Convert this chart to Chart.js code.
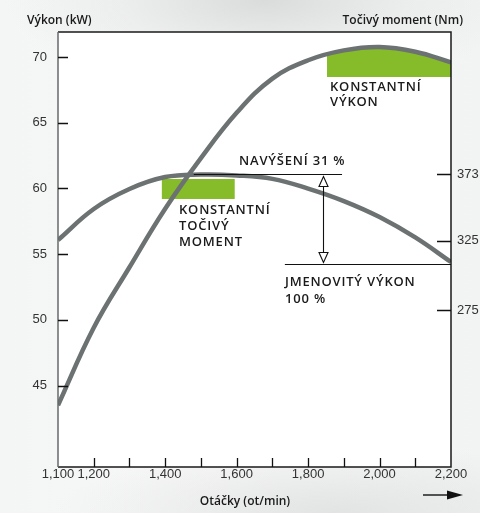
<!DOCTYPE html>
<html>
<head>
<meta charset="utf-8">
<script src="https://cdn.jsdelivr.net/npm/chart.js@4"></script>
<style>
  html, body { margin: 0; padding: 0; }
  body {
    width: 480px; height: 513px; overflow: hidden;
    background:
      radial-gradient(ellipse 260px 90px at 55% 0%, #dadbdb 0%, rgba(230,231,231,0.6) 55%, rgba(246,246,246,0) 100%),
      radial-gradient(ellipse 280px 70px at 70% 100%, #e2e3e3 0%, rgba(246,246,246,0) 100%),
      linear-gradient(to right, #f4f5f5, #f8f8f8 50%, #f2f3f3);
  }
  #wrap { position: relative; width: 480px; height: 513px; }
  canvas { display: block; }
</style>
</head>
<body>
<div id="wrap"><canvas id="chart" width="480" height="513"></canvas></div>
<script>
// otáčky (ot/min)
const rpm = [1100, 1200, 1300, 1400, 1500, 1600, 1700, 1800, 1900, 2000, 2100, 2200];
// výkon (kW)
const powerKw = [43.5, 49.4, 54.0, 58.45, 62.3, 65.75, 68.35, 69.75, 70.5, 70.76, 70.4, 69.6];
// točivý moment (Nm)
const torqueNm = [325.4, 347.8, 362.2, 370.8, 372.6, 372.0, 369.5, 362.5, 353.5, 342.0, 327.3, 309.6];

// zelené oblasti
const constPowerRpm = [1853, 1900, 2000, 2100, 2200];
const constPowerTop = [70.15, 70.5, 70.76, 70.4, 69.6];
const constPowerBase = 68.48;
const constTorqueRpm = [1390, 1595];
const constTorqueTop = [60.72, 60.72];
const constTorqueBase = 59.19;

// osy
const xTicks = [1100, 1200, 1300, 1400, 1500, 1600, 1700, 1800, 1900, 2000, 2100, 2200];
const xLabelled = [1100, 1200, 1400, 1600, 1800, 2000, 2200];
const kwTicks = [45, 50, 55, 60, 65, 70];
const nmTicks = [275, 325, 373];

// anotace
const peakTorque = 373;
const ratedTorque = 308.2;

const GREY = '#6c7172';
const GREEN = '#86bb29';
const TEXT_FONT = '"Open Sans", sans-serif';
const TICK_FONT = '"Liberation Sans", Arial, sans-serif';

const pts = (xs, ys) => xs.map((x, i) => ({ x: x, y: ys[i] }));

// -------- vlastní kreslení (rámeček, značky, texty, šipky) --------
const decor = {
    id: 'decor',
    beforeDraw(chart) {
        const { ctx, chartArea: a } = chart;
        ctx.save();
        ctx.fillStyle = '#ffffff';
        ctx.fillRect(a.left, a.top, a.right - a.left, a.bottom - a.top);
        ctx.restore();
    },
    afterDraw(chart) {
        const { ctx, chartArea: a } = chart;
        const x = chart.scales.x, kw = chart.scales.kw, nm = chart.scales.nm;
        const r = v => Math.round(v) + 0.5;
        ctx.save();

        // rámeček
        ctx.lineWidth = 1.5;
        ctx.strokeStyle = '#1a1a1a';
        ctx.beginPath();
        ctx.moveTo(a.left, a.top); ctx.lineTo(a.right, a.top);
        ctx.lineTo(a.right, a.bottom); ctx.lineTo(a.left, a.bottom);
        ctx.stroke();
        ctx.strokeStyle = '#666a6b';
        ctx.beginPath();
        ctx.moveTo(a.left, a.top); ctx.lineTo(a.left, a.bottom);
        ctx.stroke();

        // značky os (dovnitř)
        ctx.strokeStyle = '#111';
        ctx.lineWidth = 1.3;
        ctx.beginPath();
        kwTicks.forEach(v => {
            const y = r(kw.getPixelForValue(v));
            ctx.moveTo(a.left, y); ctx.lineTo(a.left + 10, y);
        });
        nmTicks.forEach(v => {
            const y = r(nm.getPixelForValue(v));
            ctx.moveTo(a.right - 14, y); ctx.lineTo(a.right, y);
        });
        xTicks.slice(1, -1).forEach(v => {
            const px = r(x.getPixelForValue(v));
            ctx.moveTo(px, a.bottom); ctx.lineTo(px, a.bottom - 9);
        });
        ctx.stroke();

        // vodorovné čáry
        ctx.lineWidth = 1.1;
        const yPeak = r(nm.getPixelForValue(peakTorque));
        const yRated = r(nm.getPixelForValue(ratedTorque));
        ctx.beginPath();
        ctx.moveTo(x.getPixelForValue(1480), yPeak); ctx.lineTo(x.getPixelForValue(1895), yPeak);
        ctx.moveTo(x.getPixelForValue(1735), yRated); ctx.lineTo(a.right, yRated);
        ctx.stroke();

        // svislá šipka s dutými hroty
        const ax = r(x.getPixelForValue(1842));
        const hh = 10, hw = 4.5;
        ctx.beginPath();
        ctx.moveTo(ax, yPeak + 2 + hh); ctx.lineTo(ax, yRated - 2 - hh);
        ctx.stroke();
        ctx.fillStyle = '#ffffff';
        [[yPeak + 2, 1], [yRated - 2, -1]].forEach(([tip, d]) => {
            ctx.beginPath();
            ctx.moveTo(ax, tip);
            ctx.lineTo(ax - hw, tip + d * hh);
            ctx.lineTo(ax + hw, tip + d * hh);
            ctx.closePath();
            ctx.fill(); ctx.stroke();
        });

        // šipka pod osou x
        ctx.fillStyle = '#111';
        ctx.lineWidth = 1.4;
        ctx.beginPath();
        ctx.moveTo(423, 495); ctx.lineTo(450, 495);
        ctx.stroke();
        ctx.beginPath();
        ctx.moveTo(463, 495); ctx.lineTo(447, 490.5); ctx.lineTo(447, 499.5);
        ctx.closePath(); ctx.fill();

        // texty
        ctx.fillStyle = '#1a1a1a';
        ctx.textBaseline = 'middle';
        ctx.textAlign = 'left';
        ctx.font = '600 13px ' + TEXT_FONT;
        ctx.letterSpacing = '0.8px';
        const lines = (txt, px, py, lh) => txt.forEach((t, i) => ctx.fillText(t, px, py + i * lh));
        lines(['NAVÝŠENÍ 31 %'], 239, 161, 0);
        lines(['KONSTANTNÍ', 'TOČIVÝ', 'MOMENT'], 179, 210, 16);
        lines(['JMENOVITÝ VÝKON', '100 %'], 285, 282, 17.5);
        lines(['KONSTANTNÍ', 'VÝKON'], 330, 87, 15.5);

        ctx.letterSpacing = '0px';
        ctx.font = '600 12px ' + TEXT_FONT;
        ctx.fillText('Výkon (kW)', 27, 21);
        ctx.textAlign = 'right';
        ctx.fillText('Točivý moment (Nm)', 463, 21);
        ctx.textAlign = 'center';
        ctx.fillText('Otáčky (ot/min)', 245, 502);

        ctx.restore();
    }
};

new Chart(document.getElementById('chart'), {
    type: 'line',
    data: {
        datasets: [
            {
                label: 'Výkon',
                data: pts(rpm, powerKw),
                yAxisID: 'kw',
                borderColor: GREY,
                borderWidth: 4.5,
                pointRadius: 0,
                tension: 0.4,
                fill: false,
                order: 0
            },
            {
                label: 'Točivý moment',
                data: pts(rpm, torqueNm),
                yAxisID: 'nm',
                borderColor: GREY,
                borderWidth: 4.5,
                pointRadius: 0,
                tension: 0.4,
                fill: false,
                order: 0
            },
            {
                label: 'Konstantní výkon',
                data: pts(constPowerRpm, constPowerTop),
                yAxisID: 'kw',
                borderWidth: 0,
                pointRadius: 0,
                tension: 0.4,
                backgroundColor: GREEN,
                fill: { value: constPowerBase },
                order: 2
            },
            {
                label: 'Konstantní točivý moment',
                data: pts(constTorqueRpm, constTorqueTop),
                yAxisID: 'kw',
                borderWidth: 0,
                pointRadius: 0,
                backgroundColor: GREEN,
                fill: { value: constTorqueBase },
                order: 2
            }
        ]
    },
    options: {
        responsive: false,
        animation: false,
        devicePixelRatio: 1,
        layout: { padding: { top: 32, left: 0, right: 0, bottom: 0 } },
        plugins: { legend: { display: false }, tooltip: { enabled: false } },
        scales: {
            x: {
                type: 'linear',
                min: 1100,
                max: 2200,
                afterBuildTicks: s => { s.ticks = xTicks.map(v => ({ value: v })); },
                afterFit: s => { s.height = 46; },
                grid: { display: false, drawTicks: false },
                border: { display: false },
                ticks: {
                    padding: 0,
                    autoSkip: false,
                    maxRotation: 0,
                    color: '#333',
                    font: { family: TICK_FONT, size: 13 },
                    callback: v => xLabelled.includes(v) ? v.toLocaleString('en-US') : ''
                }
            },
            kw: {
                type: 'linear',
                position: 'left',
                min: 38.8,
                max: 71.9,
                afterBuildTicks: s => { s.ticks = kwTicks.map(v => ({ value: v })); },
                afterFit: s => { s.width = 58; },
                grid: { display: false, drawTicks: false },
                border: { display: false },
                ticks: { padding: 11, color: '#333', font: { family: TICK_FONT, size: 13 } }
            },
            nm: {
                type: 'linear',
                position: 'right',
                min: 161.9,
                max: 475.3,
                afterBuildTicks: s => { s.ticks = nmTicks.map(v => ({ value: v })); },
                afterFit: s => { s.width = 29; },
                grid: { display: false, drawTicks: false },
                border: { display: false },
                ticks: { padding: 6, color: '#333', font: { family: TICK_FONT, size: 13 } }
            }
        }
    },
    plugins: [decor]
});
</script>
</body>
</html>
